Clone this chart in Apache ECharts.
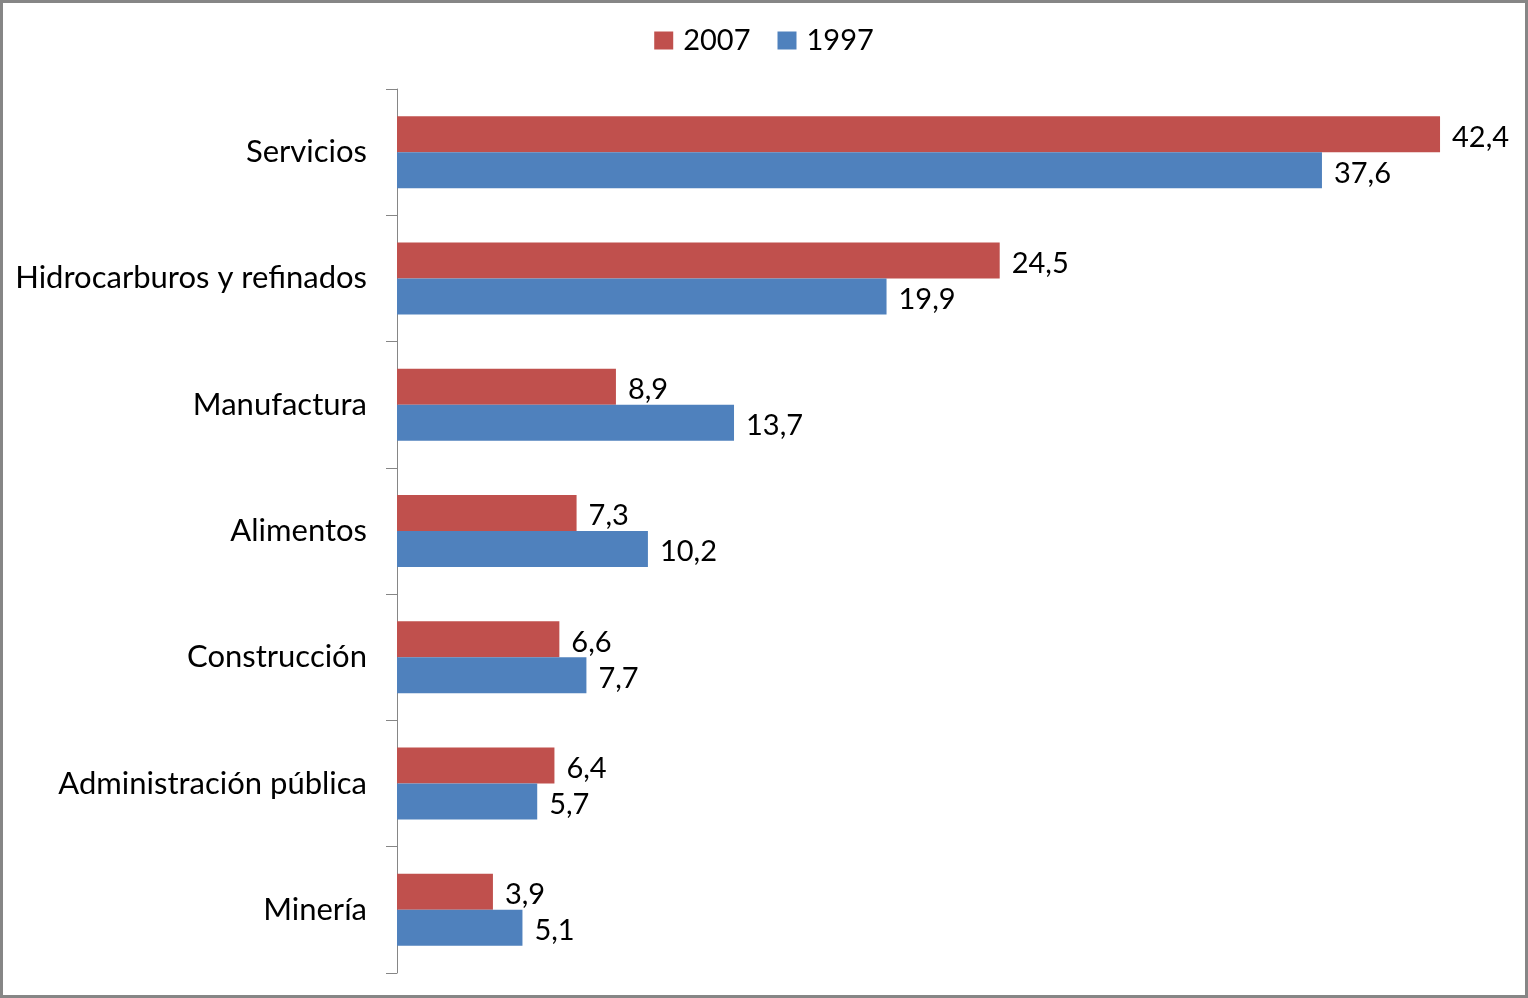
<!DOCTYPE html>
<html>
<head>
<meta charset="utf-8">
<script src="https://cdn.jsdelivr.net/npm/echarts@6/dist/echarts.min.js"></script>
<style>
html,body{margin:0;padding:0;background:#fff;}
#wrap{position:absolute;left:0;top:0;width:1522px;height:992px;border:3px solid #868686;}
#chart{width:1522px;height:992px;}
</style>
</head>
<body>
<div id="wrap"><div id="chart"></div></div>
<script>
const categories = ["Servicios","Hidrocarburos y refinados","Manufactura","Alimentos","Construcción","Administración pública","Minería"];
const values2007 = [42.4, 24.5, 8.9, 7.3, 6.6, 6.4, 3.9];
const values1997 = [37.6, 19.9, 13.7, 10.2, 7.7, 5.7, 5.1];
const seriesNames = ["2007","1997"];

const FONT = "Lato";
const chart = echarts.init(document.getElementById('chart'));
const fmt = p => String(p.value.toFixed(1)).replace('.', ',');
const labelStyle = {show: true, position: 'right', distance: 12, formatter: fmt, offset: [0, 3],
                    fontFamily: FONT, fontSize: 29, color: '#000'};
chart.setOption({
  animation: false,
  textStyle: {fontFamily: FONT},
  legend: {
    top: 18, left: 'center',
    itemWidth: 19, itemHeight: 18, itemGap: 27,
    icon: 'rect',
    textStyle: {fontFamily: FONT, fontSize: 29, color: '#000', padding: [0,0,0,5]},
    data: seriesNames
  },
  grid: {left: 394, top: 86, right: 21, bottom: 22, containLabel: false},
  xAxis: {
    type: 'value', min: 0, max: 45, show: false,
    splitLine: {show: false}
  },
  yAxis: {
    type: 'category', inverse: true, data: categories,
    axisLine: {show: true, lineStyle: {color: '#868686', width: 1}},
    axisTick: {show: true, length: 11, lineStyle: {color: '#868686'}},
    axisLabel: {fontFamily: FONT, fontSize: 31, color: '#000', margin: 30}
  },
  series: [
    {
      name: seriesNames[0], type: 'bar', data: values2007,
      barWidth: 36, barGap: '0%', barCategoryGap: '43%',
      itemStyle: {color: '#C0504D'},
      label: labelStyle
    },
    {
      name: seriesNames[1], type: 'bar', data: values1997,
      barWidth: 36, barGap: '0%', barCategoryGap: '43%',
      itemStyle: {color: '#4F81BD'},
      label: labelStyle
    }
  ]
});
</script>
</body>
</html>
